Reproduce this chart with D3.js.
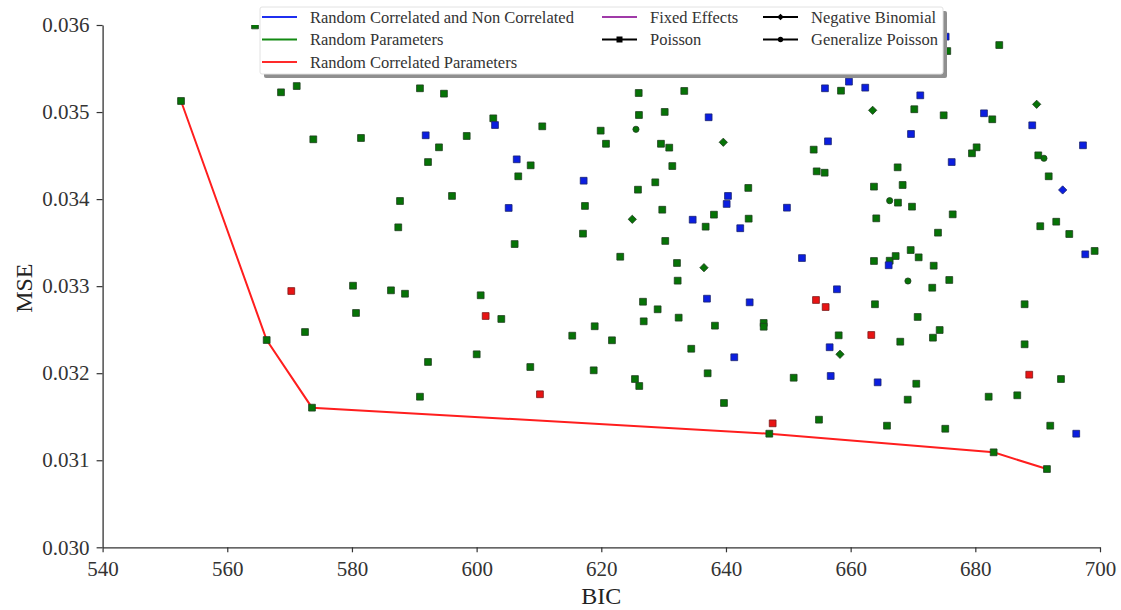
<!DOCTYPE html>
<html>
<head>
<meta charset="utf-8">
<script src="https://cdn.jsdelivr.net/npm/d3@7"></script>
<style>
  html, body { margin: 0; padding: 0; background: #fff; }
  svg { display: block; }
</style>
</head>
<body>
<svg id="chart" width="1121" height="610"></svg>
<script>
// ---------- DATA ----------
const xTicks = [540, 560, 580, 600, 620, 640, 660, 680, 700];
const yTicks = [0.030, 0.031, 0.032, 0.033, 0.034, 0.035, 0.036];

// Random Parameters (green) – Poisson (squares): [BIC, MSE]
const randomParamsPoisson = [
  [552.58,0.035127],[564.45,0.035995],[568.62,0.035227],[571.14,0.035299],[573.80,0.034687],
  [581.45,0.034702],[590.91,0.035273],[587.71,0.033978],[587.43,0.033676],[580.17,0.033005],
  [586.26,0.032952],[588.51,0.032913],[580.65,0.032692],[572.47,0.032473],[566.32,0.032381],
  [573.59,0.031604],[590.91,0.031730],[592.20,0.032129],[594.76,0.035211],[602.67,0.034928],
  [610.53,0.034836],[598.41,0.034725],[593.96,0.034595],[592.20,0.034426],[608.67,0.034388],
  [606.68,0.034262],[596.05,0.034036],[617.38,0.033921],[617.06,0.033603],[606.10,0.033484],
  [623.04,0.033338],[600.65,0.032895],[603.96,0.032623],[618.94,0.032539],[615.34,0.032431],
  [621.71,0.032378],[626.69,0.032821],[629.04,0.032734],[626.80,0.032596],[600.01,0.032217],
  [608.61,0.032071],[618.78,0.032033],[625.40,0.031933],[626.09,0.031853],[626.00,0.035219],
  [626.04,0.034966],[630.17,0.035001],[619.90,0.034786],[620.75,0.034636],[629.57,0.034636],
  [630.90,0.034591],[631.39,0.034380],[628.66,0.034193],[625.88,0.034108],[629.78,0.033878],
  [630.26,0.033519],[633.31,0.035242],[643.58,0.034128],[638.07,0.033821],[636.74,0.033683],
  [643.64,0.033775],[632.14,0.033266],[632.25,0.033063],[632.41,0.032638],[638.23,0.032546],
  [646.05,0.032577],[646.05,0.032534],[634.43,0.032281],[637.06,0.031999],[639.68,0.031658],
  [650.86,0.031948],[646.95,0.031305],[658.45,0.035245],[654.07,0.034568],[654.55,0.034319],
  [655.83,0.034303],[663.74,0.034143],[664.11,0.033779],[667.59,0.033959],[667.54,0.034365],
  [668.34,0.034162],[669.84,0.033913],[670.21,0.035032],[663.74,0.033289],[666.26,0.033292],
  [667.22,0.033346],[669.63,0.033415],[670.91,0.033331],[663.90,0.032792],[670.75,0.032646],
  [658.08,0.032435],[667.96,0.032362],[670.53,0.031879],[669.15,0.031696],[654.92,0.031466],
  [665.83,0.031397],[675.50,0.035701],[683.84,0.035770],[674.92,0.034963],[682.72,0.034917],
  [680.21,0.034595],[679.46,0.034526],[690.10,0.034503],[691.77,0.034262],[676.37,0.033825],
  [674.01,0.033614],[690.42,0.033688],[692.98,0.033740],[695.07,0.033599],[699.14,0.033404],
  [673.32,0.033235],[675.82,0.033071],[673.09,0.032982],[674.28,0.032496],[673.20,0.032408],
  [687.91,0.032792],[687.91,0.032332],[693.74,0.031933],[682.14,0.031730],[686.73,0.031746],
  [675.18,0.031362],[692.02,0.031397],[682.94,0.031091],[691.49,0.030899]
];
// Random Parameters (green) – Negative Binomial (diamonds)
const randomParamsNegBin = [
  [624.97,0.033768],[639.57,0.034653],[636.47,0.033212],[663.53,0.035020],[658.29,0.032217],[689.84,0.035089]
];
// Random Parameters (green) – Generalize Poisson (circles)
const randomParamsGenPoisson = [
  [625.56,0.034802],[666.26,0.033982],[669.19,0.033059],[691.01,0.034469]
];
// Random Correlated and Non Correlated (blue) – Poisson (squares)
const corrNonCorrPoisson = [
  [602.95,0.034851],[591.83,0.034733],[606.43,0.034457],[617.17,0.034211],[605.14,0.033898],
  [637.22,0.034940],[640.32,0.034036],[640.11,0.033944],[634.66,0.033763],[642.29,0.033665],
  [636.95,0.032856],[643.80,0.032814],[641.33,0.032183],[649.78,0.033901],[652.19,0.033323],
  [655.88,0.035273],[659.73,0.035349],[662.34,0.035280],[663.37,0.035457],[656.36,0.034664],
  [669.68,0.034748],[671.17,0.035192],[666.10,0.033240],[657.80,0.032964],[656.63,0.032298],
  [656.80,0.031968],[664.33,0.031895],[675.24,0.035866],[681.39,0.034986],[689.13,0.034848],
  [697.27,0.034618],[676.21,0.034426],[697.64,0.033366],[696.19,0.031305]
];
// Random Correlated and Non Correlated (blue) – Negative Binomial (diamonds)
const corrNonCorrNegBin = [[694.01,0.034105]];
// Random Correlated Parameters (red) – Poisson (squares)
const corrParamsPoisson = [
  [570.27,0.032944],[601.45,0.032657],[610.16,0.031758],[647.49,0.031424],
  [654.44,0.032841],[655.99,0.032760],[663.31,0.032439],[688.65,0.031983]
];
// Red frontier line
const frontierBIC = [552.58, 566.32, 573.59, 646.95, 682.94, 691.49];
const frontierMSE = [0.035127, 0.032381, 0.031604, 0.031305, 0.031091, 0.030899];

// Legend
const legendModels = ["Random Correlated and Non Correlated", "Random Parameters", "Random Correlated Parameters", "Fixed Effects"];
const legendDists = ["Poisson", "Negative Binomial", "Generalize Poisson"];

// ---------- DRAWING ----------
const COLORS = {
  blue:  {fill: "#0b1ee0", stroke: "#1a2470"},
  green: {fill: "#067306", stroke: "#1f3d1f"},
  red:   {fill: "#e81414", stroke: "#7a1a1a"},
};
const modelColors = ["#1f2ff0", "#138a13", "#ff2a2a", "#a03aa8"];

const svg = d3.select("#chart");
const serif = "'Liberation Serif', 'Times New Roman', serif";

const x = d3.scaleLinear().domain([540, 700]).range([102.6, 1100]);
const y = d3.scaleLinear().domain([0.030, 0.036]).range([547.3, 25]);

svg.append("defs").append("clipPath").attr("id", "plotclip")
  .append("rect").attr("x", x(540)).attr("y", y(0.036))
  .attr("width", x(700) - x(540)).attr("height", y(0.030) - y(0.036));

// axes
const xAxis = svg.append("g").attr("transform", `translate(0,${y(0.030)})`)
  .call(d3.axisBottom(x).tickValues(xTicks).tickFormat(d3.format("d")).tickSize(5).tickSizeOuter(0).tickPadding(9));
const yAxis = svg.append("g").attr("transform", `translate(${x(540)},0)`)
  .call(d3.axisLeft(y).tickValues(yTicks).tickFormat(d3.format(".3f")).tickSize(6).tickSizeOuter(0).tickPadding(7));
[xAxis, yAxis].forEach(g => {
  g.selectAll("path.domain").attr("stroke", "#333").attr("stroke-width", 1.3);
  g.selectAll(".tick line").attr("stroke", "#333").attr("stroke-width", 1.2);
  g.selectAll(".tick text").attr("fill", "#333").style("font-family", serif).style("font-size", "21px");
});

svg.append("text").attr("x", (x(540) + x(700)) / 2).attr("y", 604)
  .attr("text-anchor", "middle").style("font-family", serif).style("font-size", "24px")
  .attr("fill", "#222").text("BIC");
svg.append("text").attr("transform", `translate(32,${(y(0.030) + y(0.036)) / 2 + 2}) rotate(-90)`)
  .attr("text-anchor", "middle").style("font-family", serif).style("font-size", "24px")
  .attr("fill", "#222").text("MSE");

const plot = svg.append("g").attr("clip-path", "url(#plotclip)");

// frontier line
const frontier = frontierBIC.map((b, i) => [b, frontierMSE[i]]);
plot.append("path").datum(frontier)
  .attr("d", d3.line().x(d => x(d[0])).y(d => y(d[1])))
  .attr("fill", "none").attr("stroke", "#ff1e1e").attr("stroke-width", 2);

const symSquare = d3.symbol().type(d3.symbolSquare).size(46)();
const symDiamond = d3.symbol().type(d3.symbolSquare).size(34)();   // rotated 45° below
const symCircle = d3.symbol().type(d3.symbolCircle).size(30)();

function drawPoints(data, sym, col, rot) {
  plot.append("g").selectAll("path").data(data).join("path")
    .attr("d", sym)
    .attr("transform", d => `translate(${x(d[0])},${y(d[1])})` + (rot ? ` rotate(${rot})` : ""))
    .attr("fill", col.fill).attr("stroke", col.stroke).attr("stroke-width", 0.8);
}
drawPoints(randomParamsPoisson, symSquare, COLORS.green);
drawPoints(randomParamsNegBin, symDiamond, COLORS.green, 45);
drawPoints(randomParamsGenPoisson, symCircle, COLORS.green);
drawPoints(corrNonCorrPoisson, symSquare, COLORS.blue);
drawPoints(corrNonCorrNegBin, symDiamond, COLORS.blue, 45);
drawPoints(corrParamsPoisson, symSquare, COLORS.red);

// legend
const leg = svg.append("g");
const LX = 260, LY = 7, LW = 683, LH = 67;
leg.append("rect").attr("x", LX + 4).attr("y", LY + 4).attr("width", LW).attr("height", LH)
  .attr("fill", "#8f8f8f").attr("rx", 2);
leg.append("rect").attr("x", LX).attr("y", LY).attr("width", LW).attr("height", LH)
  .attr("fill", "#fff").attr("stroke", "#e2e2e2").attr("rx", 2);

const rowsY = [17, 39.5, 62];
const colX = [262, 602, 763];
const legendItems = [
  {label: legendModels[0], col: 0, row: 0, color: modelColors[0]},
  {label: legendModels[1], col: 0, row: 1, color: modelColors[1]},
  {label: legendModels[2], col: 0, row: 2, color: modelColors[2]},
  {label: legendModels[3], col: 1, row: 0, color: modelColors[3]},
  {label: legendDists[0], col: 1, row: 1, color: "#000", sym: d3.symbol().type(d3.symbolSquare).size(36)()},
  {label: legendDists[1], col: 2, row: 0, color: "#000", sym: d3.symbol().type(d3.symbolSquare).size(22)(), rot: 45},
  {label: legendDists[2], col: 2, row: 1, color: "#000", sym: d3.symbol().type(d3.symbolCircle).size(22)()},
];
legendItems.forEach(it => {
  const gx = colX[it.col], gy = rowsY[it.row];
  leg.append("line").attr("x1", gx).attr("x2", gx + 35).attr("y1", gy).attr("y2", gy)
    .attr("stroke", it.color).attr("stroke-width", 2);
  if (it.sym) {
    leg.append("path").attr("d", it.sym)
      .attr("transform", `translate(${gx + 17.5},${gy})` + (it.rot ? ` rotate(${it.rot})` : ""))
      .attr("fill", "#000");
  }
  leg.append("text").attr("x", gx + 48).attr("y", gy).attr("dy", "0.34em")
    .style("font-family", serif).style("font-size", "16.5px").attr("fill", "#333").text(it.label);
});
</script>
</body>
</html>
